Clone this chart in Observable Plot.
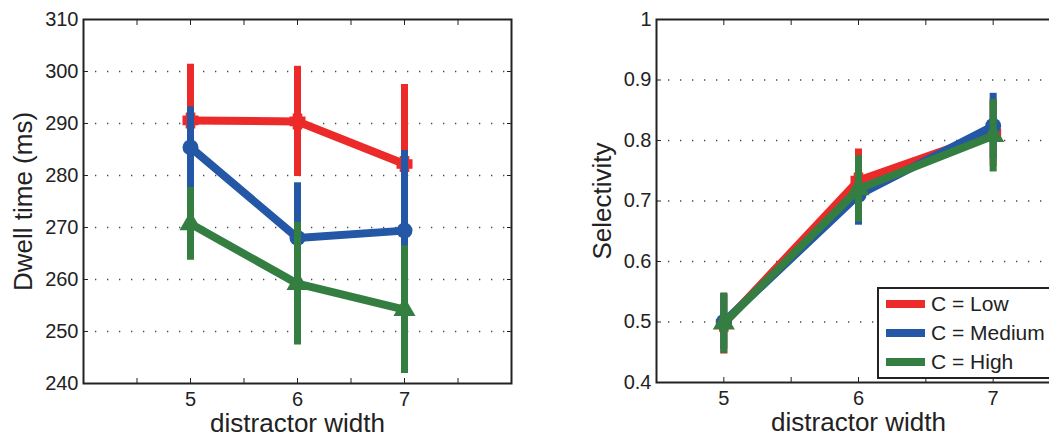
<!DOCTYPE html>
<html><head><meta charset="utf-8">
<script src="https://cdn.jsdelivr.net/npm/d3@7"></script>
<script src="https://cdn.jsdelivr.net/npm/@observablehq/plot@0.6"></script>
<style>
html,body{margin:0;padding:0;background:#fff;overflow:hidden;}
#wrap{position:relative;width:1049px;height:436px;overflow:hidden;font-family:"Liberation Sans",Arial,Helvetica,sans-serif;}
#left{position:absolute;left:0;top:0;width:540px;height:436px;}
#right{position:absolute;left:540px;top:0;width:540px;height:436px;}
#legend{position:absolute;left:0;top:0;}
#wrap svg{max-width:none !important;}
g[aria-label="x-axis tick label"], g[aria-label="y-axis tick label"]{font-size:20px;}
</style></head><body>
<div id="wrap"><div id="left"></div><div id="right"></div><svg id="legend" width="1049" height="436"></svg></div>
<script>
// ---- data ----
const widths = [5, 6, 7];
const conditions = ["C = Low", "C = Medium", "C = High"];
const colors = ["#ec2a2a", "#2457a5", "#347e41"];

const dwellLow = [290.6, 290.4, 282.2];
const dwellMedium = [285.4, 268.0, 269.4];
const dwellHigh = [270.7, 259.2, 254.2];
const dwellLowErr = [10.8, 10.6, 15.3];
const dwellMediumErr = [7.8, 10.6, 15.4];
const dwellHighErr = [7.0, 11.8, 12.3];

const selLow = [0.497, 0.734, 0.812];
const selMedium = [0.500, 0.710, 0.824];
const selHigh = [0.498, 0.720, 0.808];
const selLowErr = [0.050, 0.052, 0.055];
const selMediumErr = [0.045, 0.050, 0.054];
const selHighErr = [0.050, 0.055, 0.060];

const xTicksAll = [4.5, 5, 5.5, 6, 6.5, 7, 7.5];
const xTickLabels = [5, 6, 7];
const dwellTicks = [240, 250, 260, 270, 280, 290, 300, 310];
const dwellGrid = [250, 260, 270, 280, 290, 300];
const selTicks = [0.4, 0.5, 0.6, 0.7, 0.8, 0.9, 1];
const selTickLabels = ["0.4", "0.5", "0.6", "0.7", "0.8", "0.9", "1"];
const selGrid = [0.5, 0.6, 0.7, 0.8, 0.9];
const xLabel = "distractor width";

// ---- symbols ----
const plusSym = {draw(ctx, size) {
  const r = Math.sqrt(size / Math.PI), h = r * 0.6;
  ctx.moveTo(-r, -h); ctx.lineTo(r, -h); ctx.lineTo(r, h); ctx.lineTo(-r, h); ctx.closePath();
  ctx.moveTo(-h, -r); ctx.lineTo(h, -r); ctx.lineTo(h, r); ctx.lineTo(-h, r); ctx.closePath();
}};
const symbols = [plusSym, "circle", "triangle"];
const symbolR = [8, 8, 8.2];

function seriesMarks(vals, errs) {
  return conditions.flatMap((c, i) => {
    const rows = widths.map((w, j) => ({w, v: vals[i][j], e: errs[i][j]}));
    return [
      Plot.ruleX(rows, {x: "w", y1: d => d.v - d.e, y2: d => d.v + d.e, stroke: colors[i], strokeWidth: 7}),
      Plot.line(rows, {x: "w", y: "v", stroke: colors[i], strokeWidth: 8, strokeLinejoin: "round", strokeLinecap: "butt"}),
      Plot.dot(rows, {x: "w", y: "v", r: symbolR[i], symbol: symbols[i], fill: colors[i], stroke: "none"})
    ];
  });
}

function frameMarks(yTicks, yFmt, grid, xDomainTicks) {
  return [
    Plot.gridY(grid, {stroke: "#333", strokeOpacity: 0.9, strokeWidth: 1.3, strokeDasharray: "1.3,10.7"}),
    Plot.axisX(xDomainTicks, {anchor: "bottom", tickSize: -5, tickPadding: 13, label: null,
      tickFormat: d => xTickLabels.includes(d) ? String(d) : "", stroke: "#222", fill: "#222"}),
    Plot.axisX(xDomainTicks, {anchor: "top", tickSize: -5, label: null, tickFormat: () => "", stroke: "#222"}),
    Plot.axisY(yTicks, {anchor: "left", tickSize: -5, tickPadding: 10, label: null, tickFormat: yFmt, stroke: "#222", fill: "#222"}),
    Plot.axisY(yTicks, {anchor: "right", tickSize: -5, label: null, tickFormat: () => "", stroke: "#222"})
  ];
}

const common = {height: 436, marginTop: 19, style: {fontFamily: '"Liberation Sans", Arial, sans-serif', fontSize: "20px", color: "#222", background: "#fff"}};

const leftPlot = Plot.plot({
  ...common,
  width: 540, marginLeft: 83, marginRight: 29, marginBottom: 53,
  x: {domain: [4, 8]},
  y: {domain: [240, 310]},
  marks: [
    ...frameMarks(dwellTicks, d => String(d), dwellGrid, xTicksAll),
    ...seriesMarks([dwellLow, dwellMedium, dwellHigh], [dwellLowErr, dwellMediumErr, dwellHighErr]),
    Plot.frame({stroke: "#222", strokeWidth: 2}),
    Plot.text([xLabel], {frameAnchor: "bottom", dy: 48, fontSize: 26, fill: "#222", textAnchor: "middle", text: d => d}),
    Plot.text(["Dwell time (ms)"], {frameAnchor: "left", dx: -60, rotate: -90, textAnchor: "middle", fontSize: 26, fill: "#222", text: d => d})
  ]
});
document.getElementById("left").appendChild(leftPlot);

const rightPlot = Plot.plot({
  ...common,
  width: 540, marginLeft: 116, marginRight: 20, marginBottom: 54,
  x: {domain: [4.5, 7.5]},
  y: {domain: [0.4, 1]},
  marks: [
    ...frameMarks(selTicks, d => selTickLabels[selTicks.indexOf(d)], selGrid, xTicksAll.filter(t => t > 4.5)),
    ...seriesMarks([selLow, selMedium, selHigh], [selLowErr, selMediumErr, selHighErr]),
    Plot.frame({stroke: "#222", strokeWidth: 2}),
    Plot.text([xLabel], {frameAnchor: "bottom", dy: 48, fontSize: 26, fill: "#222", textAnchor: "middle", text: d => d}),
    Plot.text(["Selectivity"], {frameAnchor: "left", dx: -54, rotate: -90, textAnchor: "middle", fontSize: 26, fill: "#222", text: d => d})
  ]
});
document.getElementById("right").appendChild(rightPlot);

// ---- legend ----
const lg = d3.select("#legend");
const box = {x: 878, y: 288, w: 200, h: 90};
lg.append("rect").attr("x", box.x).attr("y", box.y).attr("width", box.w).attr("height", box.h)
  .attr("fill", "#fff").attr("stroke", "#222").attr("stroke-width", 2);
conditions.forEach((c, i) => {
  const y = 304 + i * 29;
  lg.append("line").attr("x1", 886).attr("x2", 925).attr("y1", y).attr("y2", y)
    .attr("stroke", colors[i]).attr("stroke-width", 8);
  lg.append("text").attr("x", 931).attr("y", y).attr("dy", "0.35em")
    .attr("font-family", '"Liberation Sans", Arial, sans-serif').attr("font-size", 21).attr("fill", "#222").text(c);
});
</script></body></html>
